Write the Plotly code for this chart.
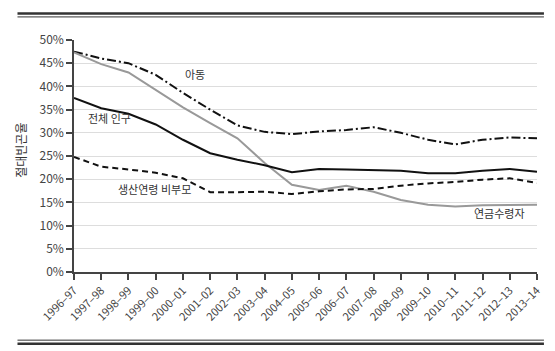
import plotly.graph_objects as go

years = ["1996–97","1997–98","1998–99","1999–00","2000–01","2001–02","2002–03","2003–04",
         "2004–05","2005–06","2006–07","2007–08","2008–09","2009–10","2010–11","2011–12",
         "2012–13","2013–14"]
children = [47.5,46.0,45.0,42.5,38.6,35.0,31.6,30.2,29.7,30.3,30.6,31.2,30.0,28.5,27.5,28.5,29.0,28.8]
total = [37.5,35.3,34.1,31.8,28.5,25.6,24.2,23.0,21.5,22.2,22.1,22.0,21.8,21.3,21.3,21.8,22.2,21.6]
pensioners = [47.3,44.8,43.0,39.3,35.5,32.1,28.8,23.5,18.8,17.7,18.6,17.3,15.5,14.5,14.1,14.4,14.5,14.5]
working_nokids = [24.8,22.7,22.1,21.4,20.2,17.2,17.2,17.3,16.8,17.4,17.8,17.9,18.6,19.1,19.4,19.9,20.2,19.2]

W, H = 555, 351
L, R, T, B = 74, 541, 39.6, 271.8
x = list(range(len(years)))

def px(xp): return (xp - L) / (R - L)
def py(yp): return (B - yp) / (B - T)

fig = go.Figure()
fig.add_trace(go.Scatter(x=x, y=children, mode="lines",
                         line=dict(color="#111", width=2, dash="9px,3px,2px,3px")))
fig.add_trace(go.Scatter(x=x, y=pensioners, mode="lines",
                         line=dict(color="#999", width=2)))
fig.add_trace(go.Scatter(x=x, y=total, mode="lines",
                         line=dict(color="#111", width=2)))
fig.add_trace(go.Scatter(x=x, y=working_nokids, mode="lines",
                         line=dict(color="#111", width=2, dash="6px,4px")))

font = "Noto Sans CJK KR, Noto Sans, sans-serif"
anns = [("아동", 196, 74), ("전체 인구", 110, 118), ("생산연령 비부모", 155, 189), ("연금수령자", 503, 213)]
for t, ax, ay in anns:
    fig.add_annotation(text=t, x=px(ax), y=py(ay), xref="paper", yref="paper",
                       xanchor="center", yanchor="middle",
                       showarrow=False, font=dict(size=11, color="#333", family=font))

fig.add_annotation(text="절대빈곤율", x=px(20), y=py(150), xref="paper", yref="paper",
                   xanchor="center", yanchor="middle",
                   showarrow=False, textangle=-90, font=dict(size=12, color="#333", family=font))

shapes = []
for yp, w in [(13, 2.5), (16.5, 1), (340, 1), (343.5, 2.5)]:
    shapes.append(dict(type="line", xref="paper", yref="paper", x0=px(17), x1=px(548),
                       y0=py(yp), y1=py(yp), line=dict(color="#333", width=w)))
fig.update_layout(shapes=shapes)

fig.update_layout(
    width=W, height=H, margin=dict(l=L, r=W - R, t=T, b=H - B),
    paper_bgcolor="white", plot_bgcolor="white", showlegend=False,
    font=dict(family=font, size=11, color="#444"),
)
fig.update_xaxes(range=[0, len(years) - 1], tickvals=x, ticktext=years, tickangle=-45,
                 showgrid=False, zeroline=False, showline=True, linecolor="#444", linewidth=1.5,
                 ticks="outside", ticklen=6, tickcolor="#444", tickwidth=1.5,
                 tickfont=dict(size=11, color="#444"))
fig.update_yaxes(range=[0, 50], tickvals=list(range(0, 51, 5)),
                 ticktext=[f"{v}%" for v in range(0, 51, 5)],
                 showgrid=True, gridcolor="#ddd", gridwidth=1, zeroline=False,
                 showline=True, linecolor="#444", linewidth=1.5,
                 ticks="outside", ticklen=6, tickcolor="#444", tickwidth=1.5,
                 tickfont=dict(size=12, color="#444"))

fig.write_html("out.html")
